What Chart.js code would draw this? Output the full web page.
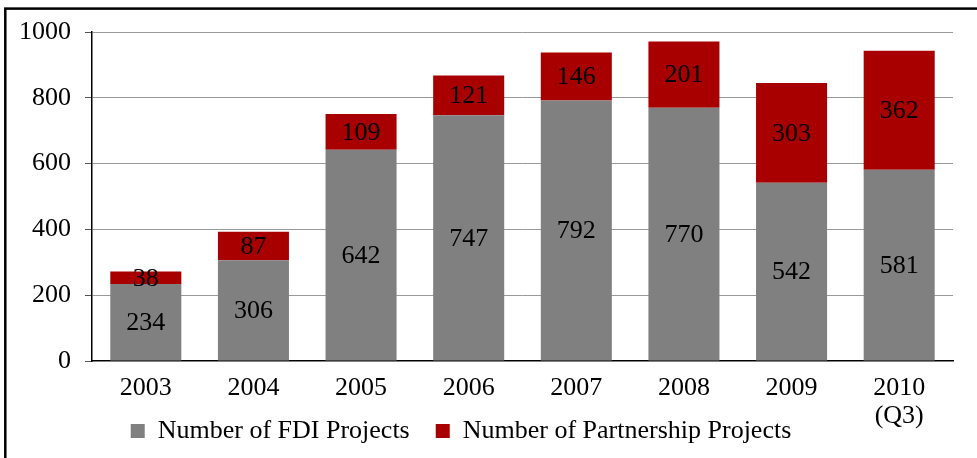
<!DOCTYPE html>
<html>
<head>
<meta charset="utf-8">
<script src="https://cdn.jsdelivr.net/npm/chart.js@4"></script>
<style>
  html, body { margin: 0; padding: 0; background: #fff; }
  #wrap { width: 977px; height: 458px; }
</style>
</head>
<body>
<div id="wrap"><canvas id="fdiChart"></canvas></div>
<script>
// Data
const years = ['2003', '2004', '2005', '2006', '2007', '2008', '2009', ['2010', '(Q3)']];
const fdiProjects = [234, 306, 642, 747, 792, 770, 542, 581];
const partnershipProjects = [38, 87, 109, 121, 146, 201, 303, 362];
const yTicks = [0, 200, 400, 600, 800, 1000];

const serif = "'Liberation Serif', 'Times New Roman', serif";

// Outer frame of the figure + a few layout tweaks
const framePlugin = {
  id: 'frame',
  afterInit(chart) {
    // pin the legend box height so the plot area matches the original layout
    const fit = chart.legend.fit;
    chart.legend.fit = function () {
      fit.call(this);
      this.height = 62;
    };
  },
  afterUpdate(chart) {
    // let the two-line "2010 (Q3)" label run past the x axis box
    chart.scales.x._computeLabelArea = () => undefined;
  },
  beforeDraw(chart) {
    const ctx = chart.ctx;
    ctx.save();
    ctx.strokeStyle = '#000';
    ctx.lineWidth = 2.5;
    ctx.strokeRect(5.3, 8.6, 1200, 1200);
    ctx.restore();
  }
};

// Value labels in the middle of every bar segment
const valueLabels = {
  id: 'valueLabels',
  afterDatasetsDraw(chart) {
    const ctx = chart.ctx;
    ctx.save();
    ctx.font = '26px ' + serif;
    ctx.fillStyle = '#000';
    ctx.textAlign = 'center';
    ctx.textBaseline = 'middle';
    chart.data.datasets.forEach((ds, i) => {
      chart.getDatasetMeta(i).data.forEach((bar, j) => {
        const mid = (bar.y + bar.base) / 2;
        ctx.fillText(ds.data[j], bar.x, mid + 1);
      });
    });
    ctx.restore();
  }
};

const ctx = document.getElementById('fdiChart').getContext('2d');
new Chart(ctx, {
  type: 'bar',
  data: {
    labels: years,
    datasets: [{
      label: 'Number of FDI Projects',
      data: fdiProjects,
      backgroundColor: '#808080',
      borderWidth: 0
    }, {
      label: 'Number of Partnership Projects',
      data: partnershipProjects,
      backgroundColor: '#A80000',
      borderWidth: 0
    }]
  },
  options: {
    responsive: true,
    maintainAspectRatio: false,
    animation: false,
    categoryPercentage: 1,
    barPercentage: 0.66,
    layout: { padding: { top: 32, right: 24, left: -31, bottom: 4 } },
    plugins: {
      legend: {
        position: 'bottom',
        labels: {
          boxWidth: 14,
          boxHeight: 14,
          padding: 26,
          color: '#000',
          font: { family: serif, size: 26 }
        }
      },
      tooltip: { enabled: false }
    },
    scales: {
      x: {
        stacked: true,
        afterFit(scale) { scale.height = 31; },
        grid: { display: false },
        border: { color: '#000', width: 1.5 },
        ticks: {
          color: '#000',
          padding: 6,
          maxRotation: 0,
          font: { family: serif, size: 26, lineHeight: 1.05 }
        }
      },
      y: {
        stacked: true,
        min: 0,
        max: 1000,
        afterFit(scale) { scale.width = 123; },
        afterBuildTicks(scale) { scale.ticks = yTicks.map(v => ({ value: v })); },
        border: { color: '#000', width: 1.5 },
        grid: {
          color: c => c.tick && c.tick.value === 0 ? 'rgba(0,0,0,0)' : '#9a9a9a',
          lineWidth: 1,
          borderDash: [1, 1],
          tickColor: '#555',
          tickLength: 7,
          tickBorderDash: []
        },
        ticks: {
          color: '#000',
          padding: 14,
          callback: v => String(v),
          font: { family: serif, size: 26 }
        }
      }
    }
  },
  plugins: [framePlugin, valueLabels]
});
</script>
</body>
</html>
